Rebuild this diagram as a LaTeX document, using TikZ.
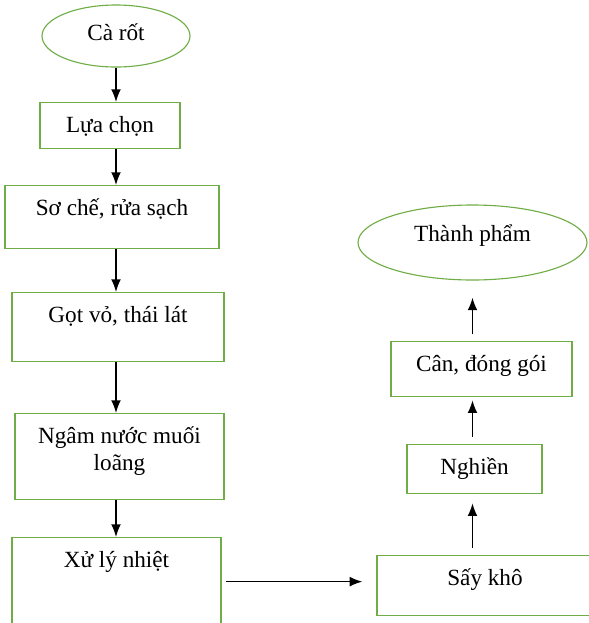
\documentclass[tikz,border=0pt]{standalone}
\usepackage{fontspec}
\setmainfont{Liberation Serif}
\usetikzlibrary{arrows.meta,shapes.geometric}
\definecolor{verde}{HTML}{70AD47}

\begin{document}
\begin{tikzpicture}[font=\fontsize{16.5}{19.2}\selectfont,
        hop/.style={draw=verde, line width=0.9pt, anchor=north, inner xsep=2pt,
            inner ysep=0.15cm, align=center},
        elip/.style={ellipse, draw=verde, line width=0.8pt, inner sep=0pt, text height=0.6cm},
        muiten/.style={-{Latex[length=9pt,width=7pt]}, line width=1.1pt}]
        \useasboundingbox (0,0) rectangle (14.725,-15.575);
        \clip (0,0) rectangle (14.725,-15.575);
        % Các bước
        \foreach \nome/\x/\y/\w/\cao/\pr/\testo in {
                lua/2.75/-2.55/3.5/0.6/0.25/{Lựa chọn},
                so/2.8/-4.625/5.35/0.6/0.675/{Sơ chế, rửa sạch},
                go/2.95/-7.3/5.3/0.6/0.825/{Gọt vỏ, thái lát},
                ngam/2.9875/-10.325/5.225/1.275/0.575/{Ngâm nước muối\\loãng},
                xu/2.9125/-13.425/5.225/0.6/1.5/{Xử lý nhiệt},
                say/12.125/-13.875/5.4/0.6/0.6/{Sấy khô},
                nghien/11.8625/-11.1/3.375/0.6/0.325/{Nghiền},
                can/12.0375/-8.525/4.525/0.6/0.475/{Cân, đóng gói}}
            {
                \node[hop, minimum width=\w cm, text height=\cao cm, text depth=\pr cm] (\nome) at (\x,\y) {\testo};
            }
        \node[elip, minimum width=3.7cm, minimum height=1.55cm, text depth=0.4cm] (ca) at (2.9,-0.9) {Cà rốt};
        \node[elip, minimum width=5.725cm, minimum height=1.875cm, text depth=0.65cm] (tp) at (11.8125,-6.0625) {Thành phẩm};
        % Mũi tên
        \coordinate (truc) at (2.9,0);
        \foreach \a/\b in {ca/lua, lua/so, so/go, go/ngam, ngam/xu}
            \draw[muiten] (truc |- \a.south) -- (truc |- \b.north);
        \draw[muiten, shorten <=0.1cm, shorten >=0.35cm] ([yshift=0.1cm]xu.east |- say.west) -- ([yshift=0.1cm]say.west);
        \draw[muiten, shorten <=0.175cm, shorten >=0.225cm] (tp.south |- say.north) -- (tp.south |- nghien.south);
        \draw[muiten, shorten <=0.175cm, shorten >=0.075cm] (tp.south |- nghien.north) -- (tp.south |- can.south);
        \draw[muiten, shorten <=0.175cm, shorten >=0.425cm] (tp.south |- can.north) -- (tp.south);
    \end{tikzpicture}
\end{document}
